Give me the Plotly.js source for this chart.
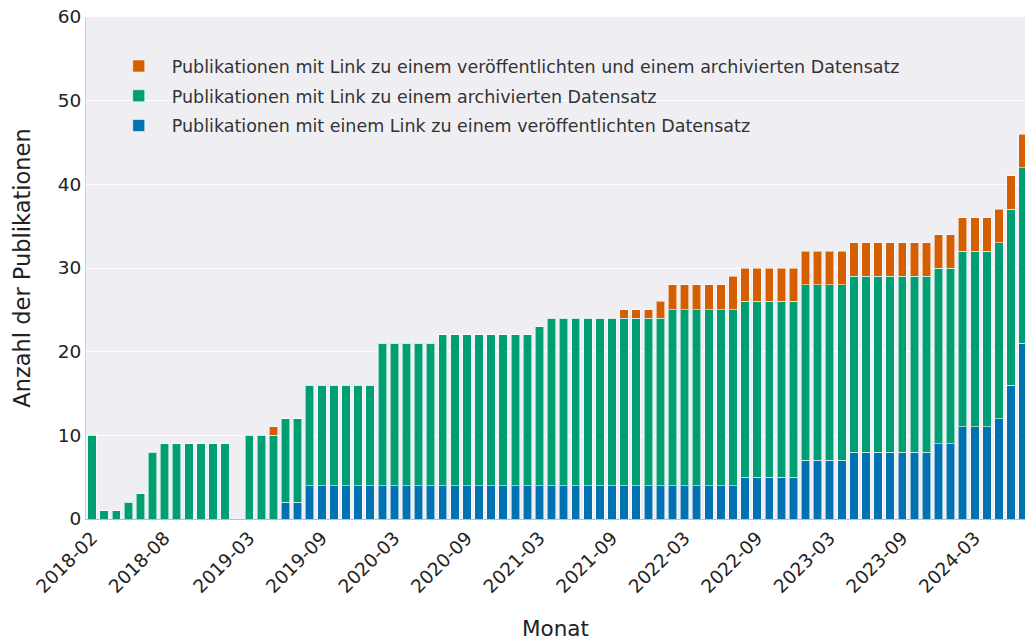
<!DOCTYPE html>
<html>
<head>
<meta charset="utf-8">
<script src="https://cdn.plot.ly/plotly-3.0.1.min.js"></script>
<style>
html,body{margin:0;padding:0;overflow:hidden;background:#fff;}
#chart{width:1025px;height:641px;}
</style>
</head>
<body>
<div id="chart"></div>
<script>
// Months (categories)
const months = [
  '2018-02','2018-03','2018-04','2018-05','2018-06','2018-07','2018-08','2018-09','2018-10','2018-11','2018-12',
  '2019-01','2019-02','2019-03','2019-04','2019-05','2019-06','2019-07','2019-08','2019-09','2019-10','2019-11','2019-12',
  '2020-01','2020-02','2020-03','2020-04','2020-05','2020-06','2020-07','2020-08','2020-09','2020-10','2020-11','2020-12',
  '2021-01','2021-02','2021-03','2021-04','2021-05','2021-06','2021-07','2021-08','2021-09','2021-10','2021-11','2021-12',
  '2022-01','2022-02','2022-03','2022-04','2022-05','2022-06','2022-07','2022-08','2022-09','2022-10','2022-11','2022-12',
  '2023-01','2023-02','2023-03','2023-04','2023-05','2023-06','2023-07','2023-08','2023-09','2023-10','2023-11','2023-12',
  '2024-01','2024-02','2024-03','2024-04','2024-05','2024-06','2024-07'
];

// Publications with a link to a published dataset (blue)
const published = [
  0,0,0,0,0,0,0,0,0,0,0,
  0,0,0,0,0,2,2,4,4,4,4,4,
  4,4,4,4,4,4,4,4,4,4,4,4,
  4,4,4,4,4,4,4,4,4,4,4,4,
  4,4,4,4,4,4,4,5,5,5,5,5,
  7,7,7,7,8,8,8,8,8,8,8,9,
  9,11,11,11,12,16,21
];

// Publications with a link to an archived dataset (green)
const archived = [
  10,1,1,2,3,8,9,9,9,9,9,
  9,0,10,10,10,10,10,12,12,12,12,12,
  12,17,17,17,17,17,18,18,18,18,18,18,
  18,18,19,20,20,20,20,20,20,20,20,20,
  20,21,21,21,21,21,21,21,21,21,21,21,
  21,21,21,21,21,21,21,21,21,21,21,21,
  21,21,21,21,21,21,21
];

// Publications with link to both a published and an archived dataset (orange)
const both = [
  0,0,0,0,0,0,0,0,0,0,0,
  0,0,0,0,1,0,0,0,0,0,0,0,
  0,0,0,0,0,0,0,0,0,0,0,0,
  0,0,0,0,0,0,0,0,0,1,1,1,
  2,3,3,3,3,3,4,4,4,4,4,4,
  4,4,4,4,4,4,4,4,4,4,4,4,
  4,4,4,4,4,4,4
];

const tickMonths = ['2018-02','2018-08','2019-03','2019-09','2020-03','2020-09','2021-03','2021-09','2022-03','2022-09','2023-03','2023-09','2024-03'];

const names = {
  published: 'Publikationen mit einem Link zu einem veröffentlichten Datensatz',
  archived: 'Publikationen mit Link zu einem archivierten Datensatz',
  both: 'Publikationen mit Link zu einem veröffentlichten und einem archivierten Datensatz'
};

const FONT = 'Verdana, "DejaVu Sans", sans-serif';
const edge = {color: 'rgba(255,255,255,0.55)', width: 1};

const traces = [
  {type:'bar', x: months, y: published, name: names.published, legendgroup:'a', legendrank: 3,
   marker:{color:'#0072B2', line: edge}},
  {type:'bar', x: months, y: archived, name: names.archived, legendgroup:'b', legendrank: 2,
   marker:{color:'#009E73', line: edge}},
  {type:'bar', x: months, y: both, name: names.both, legendgroup:'c', legendrank: 1,
   marker:{color:'#D55E00', line: edge}}
];

const layout = {
  width: 1025, height: 641,
  margin: {l: 86, r: 0, t: 17, b: 122},
  barmode: 'stack',
  bargap: 0.3,
  paper_bgcolor: '#ffffff',
  plot_bgcolor: '#EFEFF3',
  font: {family: FONT, size: 17.5, color: '#333'},
  showlegend: true,
  legend: {
    x: 0.021, xanchor: 'left', xref: 'paper',
    y: 0.938, yanchor: 'top', yref: 'paper',
    bgcolor: 'rgba(0,0,0,0)',
    traceorder: 'grouped',
    tracegroupgap: 4,
    itemwidth: 56,
    font: {family: FONT, size: 17.5, color: '#333'}
  },
  xaxis: {
    type: 'category',
    range: [-0.5, 77.15],
    tickmode: 'array',
    tickvals: tickMonths,
    ticktext: tickMonths,
    tickangle: -45,
    showgrid: false,
    showline: true, linecolor: '#bdbdbd', linewidth: 1,
    ticks: '',
    automargin: false,
    tickfont: {family: FONT, size: 18.5, color: '#222'},
    title: {text: 'Monat', font: {family: FONT, size: 21.5, color: '#222'}, standoff: 32}
  },
  yaxis: {
    range: [0, 60],
    dtick: 10,
    showgrid: true, gridcolor: '#ffffff', gridwidth: 1,
    zeroline: false,
    showline: true, linecolor: '#d0d0d0', linewidth: 1,
    ticks: '',
    automargin: false,
    tickfont: {family: FONT, size: 18.5, color: '#222'},
    title: {text: 'Anzahl der Publikationen', font: {family: FONT, size: 22.5, color: '#222'}, standoff: 20}
  }
};

Plotly.newPlot('chart', traces, layout, {displayModeBar: false, staticPlot: true});
</script>
</body>
</html>
